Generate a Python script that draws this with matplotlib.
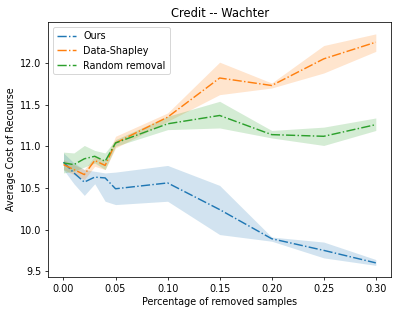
import numpy as np
import matplotlib
matplotlib.use('Agg')
import matplotlib.pyplot as plt

# removal fractions
x = [0.0, 0.01, 0.02, 0.03, 0.04, 0.05, 0.10, 0.15, 0.20, 0.25, 0.30]

# mean cost of recourse
ours = [10.81, 10.68, 10.57, 10.63, 10.62, 10.49, 10.56, 10.24, 9.89, 9.75, 9.60]
shapley = [10.78, 10.72, 10.66, 10.83, 10.77, 11.04, 11.35, 11.82, 11.73, 12.05, 12.25]
random_rm = [10.80, 10.78, 10.85, 10.88, 10.82, 11.04, 11.27, 11.37, 11.14, 11.12, 11.26]

# band lower / upper
ours_lo = [10.72, 10.55, 10.41, 10.55, 10.34, 10.30, 10.34, 9.94, 9.86, 9.66, 9.57]
ours_hi = [10.92, 10.80, 10.72, 10.70, 10.68, 10.69, 10.77, 10.53, 9.91, 9.85, 9.64]
shapley_lo = [10.72, 10.66, 10.60, 10.76, 10.72, 10.98, 11.30, 11.62, 11.70, 11.88, 12.14]
shapley_hi = [10.84, 10.78, 10.72, 10.88, 10.83, 11.12, 11.40, 12.01, 11.76, 12.21, 12.35]
random_lo = [10.68, 10.70, 10.75, 10.80, 10.72, 11.00, 11.20, 11.22, 11.10, 11.01, 11.19]
random_hi = [10.93, 10.92, 11.01, 10.95, 10.92, 11.08, 11.36, 11.54, 11.19, 11.23, 11.34]

fig = plt.figure(figsize=(399 / 69, 314 / 69), dpi=69)
ax = fig.add_axes([0.120, 0.118, 0.861, 0.811])

ax.plot(x, ours, '-.', color='C0', label='Ours')
ax.fill_between(x, ours_lo, ours_hi, color='C0', alpha=0.2, linewidth=0)
ax.plot(x, shapley, '-.', color='C1', label='Data-Shapley')
ax.fill_between(x, shapley_lo, shapley_hi, color='C1', alpha=0.2, linewidth=0)
ax.plot(x, random_rm, '-.', color='C2', label='Random removal')
ax.fill_between(x, random_lo, random_hi, color='C2', alpha=0.2, linewidth=0)

ax.set_title('Credit -- Wachter')
ax.set_xlabel('Percentage of removed samples')
ax.set_ylabel('Average Cost of Recourse')
ax.legend(loc='upper left')

fig.savefig('out.png', dpi=69)
